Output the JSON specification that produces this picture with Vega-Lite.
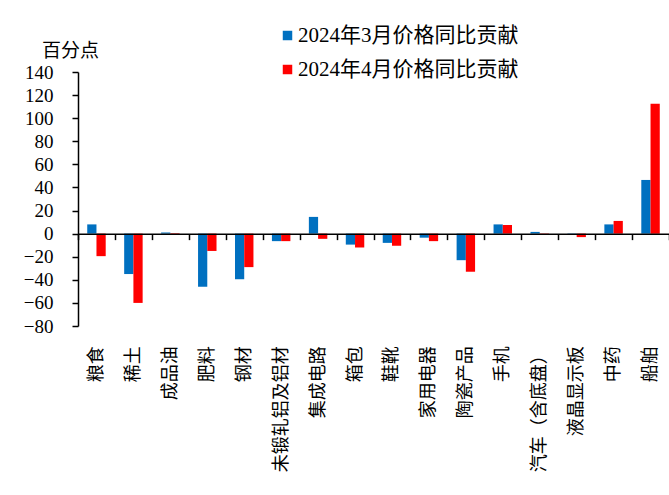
{
  "$schema": "https://vega.github.io/schema/vega-lite/v6.json",
  "autosize": {"type": "none"},
  "padding": {"left": 78, "top": 72, "right": 0, "bottom": 169},
  "width": 591,
  "height": 254,
  "background": "white",
  "config": {"view": {"stroke": null}},
  "data": {
    "values": [
      {"cat": "粮食", "series": "2024年3月价格同比贡献", "value": 8},
      {"cat": "粮食", "series": "2024年4月价格同比贡献", "value": -19.5},
      {"cat": "稀土", "series": "2024年3月价格同比贡献", "value": -35},
      {"cat": "稀土", "series": "2024年4月价格同比贡献", "value": -60},
      {"cat": "成品油", "series": "2024年3月价格同比贡献", "value": 1},
      {"cat": "成品油", "series": "2024年4月价格同比贡献", "value": 0.5},
      {"cat": "肥料", "series": "2024年3月价格同比贡献", "value": -46},
      {"cat": "肥料", "series": "2024年4月价格同比贡献", "value": -15},
      {"cat": "钢材", "series": "2024年3月价格同比贡献", "value": -39.5},
      {"cat": "钢材", "series": "2024年4月价格同比贡献", "value": -29},
      {"cat": "未锻轧铝及铝材", "series": "2024年3月价格同比贡献", "value": -6.5},
      {"cat": "未锻轧铝及铝材", "series": "2024年4月价格同比贡献", "value": -6.5},
      {"cat": "集成电路", "series": "2024年3月价格同比贡献", "value": 14.5},
      {"cat": "集成电路", "series": "2024年4月价格同比贡献", "value": -4.5},
      {"cat": "箱包", "series": "2024年3月价格同比贡献", "value": -9.5},
      {"cat": "箱包", "series": "2024年4月价格同比贡献", "value": -12},
      {"cat": "鞋靴", "series": "2024年3月价格同比贡献", "value": -8},
      {"cat": "鞋靴", "series": "2024年4月价格同比贡献", "value": -10.5},
      {"cat": "家用电器", "series": "2024年3月价格同比贡献", "value": -3.5},
      {"cat": "家用电器", "series": "2024年4月价格同比贡献", "value": -6.5},
      {"cat": "陶瓷产品", "series": "2024年3月价格同比贡献", "value": -23},
      {"cat": "陶瓷产品", "series": "2024年4月价格同比贡献", "value": -33},
      {"cat": "手机", "series": "2024年3月价格同比贡献", "value": 8},
      {"cat": "手机", "series": "2024年4月价格同比贡献", "value": 7.5},
      {"cat": "汽车（含底盘）", "series": "2024年3月价格同比贡献", "value": 1.5},
      {"cat": "汽车（含底盘）", "series": "2024年4月价格同比贡献", "value": -1},
      {"cat": "液晶显示板", "series": "2024年3月价格同比贡献", "value": 0.3},
      {"cat": "液晶显示板", "series": "2024年4月价格同比贡献", "value": -3},
      {"cat": "中药", "series": "2024年3月价格同比贡献", "value": 8},
      {"cat": "中药", "series": "2024年4月价格同比贡献", "value": 11},
      {"cat": "船舶", "series": "2024年3月价格同比贡献", "value": 46.5},
      {"cat": "船舶", "series": "2024年4月价格同比贡献", "value": 112.5}
    ]
  },
  "mark": {"type": "bar"},
  "encoding": {
    "x": {
      "field": "cat",
      "type": "nominal",
      "sort": ["粮食", "稀土", "成品油", "肥料", "钢材", "未锻轧铝及铝材", "集成电路", "箱包", "鞋靴", "家用电器", "陶瓷产品", "手机", "汽车（含底盘）", "液晶显示板", "中药", "船舶"],
      "scale": {"paddingInner": 0, "paddingOuter": 0},
      "axis": {
        "title": null,
        "orient": "bottom",
        "offset": -92.36,
        "zindex": 1,
        "tickBand": "extent",
        "domainColor": "black",
        "domainWidth": 1.5,
        "tickColor": "black",
        "tickWidth": 1.5,
        "tickSize": 6,
        "labelAngle": -90,
        "labelPadding": 106,
        "labelFont": "Noto Sans CJK SC",
        "labelFontSize": 18,
        "labelColor": "black",
        "labelOverlap": false,
        "labelLimit": 0
      }
    },
    "xOffset": {
      "field": "series",
      "type": "nominal",
      "sort": ["2024年3月价格同比贡献", "2024年4月价格同比贡献"],
      "scale": {"paddingInner": 0, "paddingOuter": 1.05}
    },
    "y": {
      "field": "value",
      "type": "quantitative",
      "scale": {"domain": [-80, 140], "nice": false, "zero": false},
      "axis": {
        "title": "百分点",
        "titleAngle": 0,
        "titleX": -8,
        "titleY": -22,
        "titleAlign": "center",
        "titleBaseline": "middle",
        "titleFont": "Noto Sans CJK SC",
        "titleFontSize": 19,
        "titleFontWeight": "normal",
        "titleColor": "black",
        "values": [-80, -60, -40, -20, 0, 20, 40, 60, 80, 100, 120, 140],
        "grid": false,
        "domainColor": "black",
        "domainWidth": 1.5,
        "tickColor": "black",
        "tickWidth": 1.5,
        "tickSize": 6,
        "labelPadding": 19,
        "labelFont": "Times New Roman, Liberation Serif, serif",
        "labelFontSize": 19,
        "labelColor": "black"
      }
    },
    "color": {
      "field": "series",
      "type": "nominal",
      "scale": {
        "domain": ["2024年3月价格同比贡献", "2024年4月价格同比贡献"],
        "range": ["#0070C0", "#FF0000"]
      },
      "legend": {
        "title": null,
        "orient": "none",
        "legendX": 199,
        "legendY": -47,
        "padding": 0,
        "symbolType": "square",
        "symbolSize": 90,
        "symbolStrokeWidth": 0,
        "labelOffset": 0,
        "rowPadding": 12,
        "labelFont": "Times New Roman, Liberation Serif, Noto Sans CJK SC, serif",
        "labelFontSize": 21,
        "labelColor": "black",
        "labelLimit": 0
      }
    }
  }
}
